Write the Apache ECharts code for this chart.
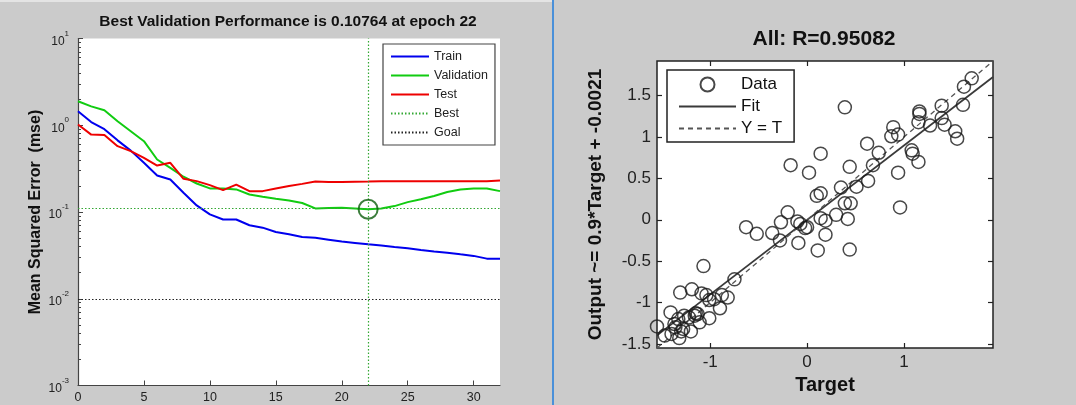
<!DOCTYPE html>
<html>
<head>
<meta charset="utf-8">
<script src="https://cdn.jsdelivr.net/npm/echarts@6/dist/echarts.min.js"></script>
<style>
  html, body { margin: 0; padding: 0; background: #cbcbcb; }
  #chart { width: 1076px; height: 405px; }
</style>
</head>
<body>
<div id="chart"></div>
<script>
// ---------- Performance plot data ----------
const epochs = [0,1,2,3,4,5,6,7,8,9,10,11,12,13,14,15,16,17,18,19,20,21,22,23,24,25,26,27,28,29,30,31,32];
const trainMSE = [1.45,1.09,0.90,0.67,0.51,0.369,0.264,0.237,0.167,0.119,0.094,0.082,0.082,0.0704,0.066,0.0589,0.0553,0.0516,0.0505,0.048,0.0456,0.044,0.0424,0.041,0.0395,0.0382,0.0365,0.035,0.034,0.0325,0.0312,0.029,0.029];
const validationMSE = [1.89,1.65,1.49,1.11,0.853,0.655,0.403,0.323,0.255,0.213,0.187,0.187,0.182,0.159,0.150,0.142,0.136,0.127,0.110,0.111,0.112,0.110,0.10764,0.1095,0.117,0.130,0.140,0.153,0.170,0.182,0.187,0.187,0.174];
const testMSE = [1.02,0.78,0.77,0.574,0.503,0.421,0.343,0.369,0.241,0.227,0.204,0.179,0.207,0.174,0.174,0.187,0.199,0.211,0.225,0.222,0.222,0.223,0.224,0.226,0.226,0.226,0.226,0.226,0.226,0.226,0.226,0.226,0.231];
const bestEpoch = 22;
const bestPerf = 0.10764;
const goalMSE = 0.01;
const perfXTicks = [0,5,10,15,20,25,30];
const perfYTicks = [0.001,0.01,0.1,1,10];

// ---------- Regression plot data ----------
const targets = [0.39,1.70,1.62,1.61,1.39,1.39,1.42,1.16,1.16,1.15,1.27,1.53,1.55,0.89,0.87,0.94,0.62,0.74,0.68,0.63,
  1.08,1.09,1.15,0.94,0.96,0.44,0.51,0.35,0.39,0.45,0.30,0.42,0.44,0.14,-0.17,0.02,0.10,0.14,0.14,0.19,
  0.19,0.11,-0.20,-0.27,-0.10,-0.07,-0.02,0.00,-0.09,-0.28,-0.36,-0.63,-0.52,-0.75,-1.07,-1.31,-1.19,-1.09,-1.04,-1.01,
  -0.96,-0.88,-0.82,-0.90,-1.01,-1.13,-1.11,-1.27,-1.41,-1.37,-1.28,-1.20,-1.55,-1.47,-1.40,-1.32,-1.16,-1.22,-1.33,-1.30,
  -1.15,-1.36];
const outputs = [1.36,1.71,1.61,1.39,1.38,1.23,1.15,1.31,1.28,1.18,1.14,1.07,0.98,1.12,1.01,1.03,0.92,0.81,0.66,0.47,
  0.84,0.80,0.70,0.57,0.15,0.64,0.40,0.39,0.20,0.20,0.06,0.01,-0.36,0.80,0.66,0.57,0.29,0.32,0.02,-0.01,
  -0.18,-0.37,0.09,-0.03,-0.02,-0.05,-0.10,-0.09,-0.28,-0.25,-0.16,-0.09,-0.17,-0.72,-0.56,-0.88,-0.84,-0.89,-0.91,-0.97,
  -0.96,-0.91,-0.94,-1.07,-1.19,-1.14,-1.24,-1.16,-1.12,-1.26,-1.32,-1.35,-1.29,-1.40,-1.38,-1.43,-1.16,-1.18,-1.20,-1.35,
  -1.13,-1.30];
const R = 0.95082;
const fitSlope = 0.9;
const fitIntercept = -0.0021;
const regMin = -1.55;
const regMax = 1.92;
const regXTicks = [-1,0,1];
const regYTicks = [-1.5,-1,-0.5,0,0.5,1,1.5];

// minor log ticks (2..9 x each decade)
const minorLogTicks = [];
for (let i = 0; i < perfYTicks.length - 1; i++) {
  for (let k = 2; k <= 9; k++) minorLogTicks.push(+(k * perfYTicks[i]).toPrecision(3));
}

const FONT = '"Liberation Sans", Arial, sans-serif';
const chart = echarts.init(document.getElementById('chart'), null, { renderer: 'canvas' });

const perfSeries = (name, arr, color) => ({
  name, type: 'line', xAxisIndex: 0, yAxisIndex: 0,
  data: epochs.map((e, i) => [e, arr[i]]),
  symbol: 'none', color,
  lineStyle: { color, width: 2 }, z: 3
});
const noSym = name => ({ name, itemStyle: { opacity: 0 } });

const option = {
  animation: false,
  backgroundColor: '#cbcbcb',
  textStyle: { fontFamily: FONT },
  title: [
    { text: 'Best Validation Performance is ' + bestPerf + ' at epoch ' + bestEpoch,
      left: 283, top: 9, textAlign: 'center',
      textStyle: { fontSize: 15.5, fontWeight: 'bold', color: '#111', fontFamily: FONT } },
    { text: 'All: R=' + R,
      left: 819, top: 24, textAlign: 'center',
      textStyle: { fontSize: 21, fontWeight: 'bold', color: '#111', fontFamily: FONT } }
  ],
  graphic: [
    { type: 'rect', left: 0, top: 0, shape: { width: 552, height: 2 }, style: { fill: '#e4e4e4' }, silent: true },
    { type: 'rect', left: 552, top: 0, shape: { width: 2, height: 405 }, style: { fill: '#4a90d9' }, silent: true }
  ],
  legend: [
    { data: ['Train', 'Validation', 'Test', 'Best', 'Goal'].map(noSym),
      orient: 'vertical', left: 383, top: 44,
      padding: [6, 7, 6, 7], itemWidth: 38, itemHeight: 10, itemGap: 6,
      backgroundColor: '#fff', borderColor: '#444', borderWidth: 1.2,
      selectedMode: false,
      textStyle: { fontSize: 12.5, color: '#222', fontFamily: FONT, lineHeight: 13 } },
    { data: [{ name: 'Data' }, noSym('Fit'), noSym('Y = T')],
      orient: 'vertical', left: 667, top: 70,
      padding: [6, 12, 5, 11], itemWidth: 57, itemHeight: 14, itemGap: 5,
      backgroundColor: '#fff', borderColor: '#222', borderWidth: 1.5,
      selectedMode: false,
      textStyle: { fontSize: 17, color: '#111', fontFamily: FONT, lineHeight: 17 } }
  ],
  grid: [
    { left: 78, top: 38.5, width: 422, height: 347, show: true, backgroundColor: '#fff', borderWidth: 0, containLabel: false },
    { left: 657, top: 61, width: 336, height: 287, show: true, backgroundColor: '#fff', borderColor: '#222', borderWidth: 1.5, containLabel: false }
  ],
  xAxis: [
    { gridIndex: 0, type: 'value', min: 0, max: 32, position: 'bottom',
      axisLine: { show: true, onZero: false, lineStyle: { color: '#444', width: 1.2 } },
      axisTick: { show: true, inside: true, length: 5, customValues: perfXTicks, lineStyle: { color: '#444' } },
      axisLabel: { customValues: perfXTicks, fontSize: 12.5, color: '#222', margin: 6 },
      splitLine: { show: false } },
    { gridIndex: 1, type: 'value', min: regMin, max: regMax, position: 'bottom',
      axisLine: { show: false, onZero: false },
      axisTick: { show: true, inside: true, length: 5, customValues: regXTicks, lineStyle: { color: '#222', width: 1.2 } },
      axisLabel: { customValues: regXTicks, fontSize: 17, color: '#222', margin: 6 },
      splitLine: { show: false },
      name: 'Target', nameLocation: 'middle', nameGap: 26,
      nameTextStyle: { fontSize: 20, fontWeight: 'bold', color: '#111' } },
    { gridIndex: 1, type: 'value', position: 'top', min: regMin, max: regMax,
      axisLine: { show: false, onZero: false },
      axisTick: { show: true, inside: true, length: 5, customValues: regXTicks, lineStyle: { color: '#222', width: 1.2 } },
      axisLabel: { show: false }, splitLine: { show: false } }
  ],
  yAxis: [
    { gridIndex: 0, type: 'log', logBase: 10, min: 0.001, max: 10, position: 'left',
      axisLine: { show: true, onZero: false, lineStyle: { color: '#444', width: 1.2 } },
      axisTick: { show: true, inside: true, length: 5, customValues: perfYTicks, lineStyle: { color: '#444' } },
      axisLabel: { customValues: perfYTicks, margin: 9, color: '#222',
        formatter: v => '{b|10}{s|' + Math.round(Math.log10(v)) + '}',
        rich: {
          b: { fontSize: 12, lineHeight: 18, verticalAlign: 'bottom', color: '#222', fontFamily: FONT },
          s: { fontSize: 8, lineHeight: 9, verticalAlign: 'top', color: '#222', fontFamily: FONT }
        } },
      splitLine: { show: false },
      name: 'Mean Squared Error  (mse)', nameLocation: 'middle', nameGap: 34,
      nameTextStyle: { fontSize: 16, fontWeight: 'bold', color: '#111' } },
    { gridIndex: 0, type: 'log', logBase: 10, min: 0.001, max: 10, position: 'left',
      axisLine: { show: false, onZero: false },
      axisTick: { show: true, inside: true, length: 3, customValues: minorLogTicks, lineStyle: { color: '#444' } },
      axisLabel: { show: false }, splitLine: { show: false } },
    { gridIndex: 1, type: 'value', min: regMin, max: regMax, position: 'left',
      axisLine: { show: false, onZero: false },
      axisTick: { show: true, inside: true, length: 5, customValues: regYTicks, lineStyle: { color: '#222', width: 1.2 } },
      axisLabel: { customValues: regYTicks, fontSize: 17, color: '#222', margin: 6 },
      splitLine: { show: false },
      name: 'Output ~= ' + fitSlope + '*Target + ' + fitIntercept, nameLocation: 'middle', nameGap: 52,
      nameTextStyle: { fontSize: 19, fontWeight: 'bold', color: '#111' } },
    { gridIndex: 1, type: 'value', position: 'right', min: regMin, max: regMax,
      axisLine: { show: false, onZero: false },
      axisTick: { show: true, inside: true, length: 5, customValues: regYTicks, lineStyle: { color: '#222', width: 1.2 } },
      axisLabel: { show: false }, splitLine: { show: false } }
  ],
  series: [
    perfSeries('Train', trainMSE, '#0000ee'),
    perfSeries('Validation', validationMSE, '#11cc11'),
    perfSeries('Test', testMSE, '#ee0000'),
    { name: 'Best', type: 'line', xAxisIndex: 0, yAxisIndex: 0, data: [], symbol: 'none',
      color: '#33a833', lineStyle: { color: '#33a833', width: 1.2, type: [1.5, 2] },
      markLine: { symbol: 'none', silent: true, label: { show: false },
        lineStyle: { color: '#33a833', width: 1.2, type: [1.5, 2] },
        data: [{ yAxis: bestPerf }, { xAxis: bestEpoch }] }, z: 2 },
    { name: 'Goal', type: 'line', xAxisIndex: 0, yAxisIndex: 0, data: [], symbol: 'none',
      color: '#222', lineStyle: { color: '#222', width: 1.2, type: [1.5, 2] },
      markLine: { symbol: 'none', silent: true, label: { show: false },
        lineStyle: { color: '#222', width: 1.2, type: [1.5, 2] },
        data: [{ yAxis: goalMSE }] }, z: 2 },
    { name: 'BestPoint', type: 'scatter', xAxisIndex: 0, yAxisIndex: 0,
      data: [[bestEpoch, bestPerf]], symbol: 'circle', symbolSize: 19,
      itemStyle: { color: 'rgba(0,0,0,0)', borderColor: '#0b5e0b', borderWidth: 2 }, z: 5 },
    { name: 'Data', type: 'scatter', xAxisIndex: 1, yAxisIndex: 2,
      data: targets.map((t, i) => [t, outputs[i]]),
      symbol: 'circle', symbolSize: 13, clip: false,
      itemStyle: { color: 'rgba(0,0,0,0)', borderColor: '#1a1a1a', borderWidth: 1.5 }, z: 4 },
    { name: 'Fit', type: 'line', xAxisIndex: 1, yAxisIndex: 2,
      data: [[regMin, fitSlope * regMin + fitIntercept], [regMax, fitSlope * regMax + fitIntercept]],
      symbol: 'none', color: '#3a3a3a', lineStyle: { color: '#3a3a3a', width: 1.8 }, z: 3 },
    { name: 'Y = T', type: 'line', xAxisIndex: 1, yAxisIndex: 2,
      data: [[regMin, regMin], [regMax, regMax]],
      symbol: 'none', color: '#555', lineStyle: { color: '#555', width: 1.3, type: [5, 4] }, z: 3 }
  ]
};
chart.setOption(option);
</script>
</body>
</html>
